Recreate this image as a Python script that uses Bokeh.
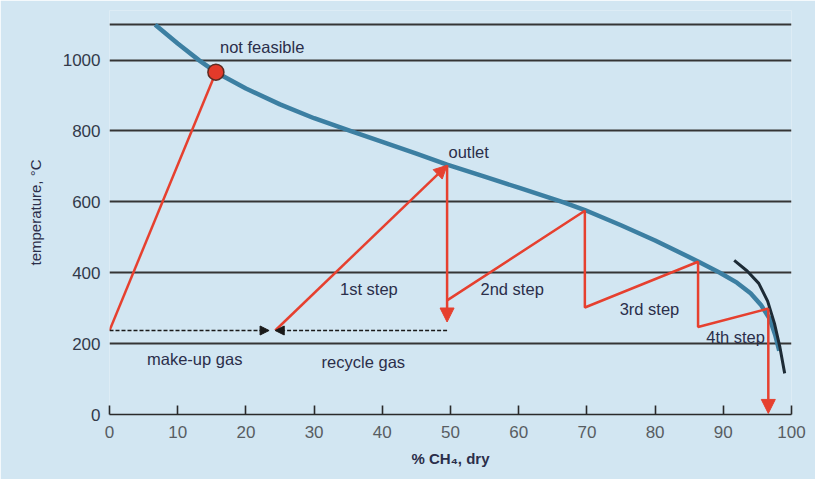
from bokeh.plotting import figure
from bokeh.models import Range1d, FixedTicker, Arrow, NormalHead, ColumnDataSource
from bokeh.core.properties import value
from bokeh.embed import file_html
from bokeh.resources import INLINE

# equilibrium curve (% CH4 dry vs temperature)
eq_x = [6.7, 10.0, 13.1, 15.6, 20.0, 25.0, 30.0, 35.3, 40.0, 45.0, 49.5, 55.0, 60.0,
        66.7, 69.7, 75.0, 80.0, 86.3, 89.5, 92.0, 94.0, 95.5, 96.8, 97.6, 98.2]
eq_y = [1100, 1047, 1000, 966, 920, 875, 836, 800, 769, 736, 705, 671, 640,
        598, 577, 534, 491, 432, 400, 372, 342, 310, 270, 225, 180]

# second (dark) curve near high conversion
dk_x = [91.6, 93.5, 95.2, 96.5, 97.5, 98.3, 99.0]
dk_y = [435, 405, 370, 320, 257, 190, 116]

# feed / adiabatic steps
feed_x = [0.0, 15.6]
feed_y = [237, 966]
step1_start = (24.3, 237)
outlet = (49.5, 703)
drop1_end = (49.5, 261)
steps_x = [49.5, 69.7, 69.7, 86.3, 86.3, 96.6]
steps_y = [322, 575, 302, 431, 247, 299]
final_drop_end = (96.6, 3)

# gas streams (dashed)
makeup = ((0.0, 237), (23.4, 237))
recycle = ((49.5, 237), (24.3, 237))

# not feasible point
nf_x = [15.6]
nf_y = [966]

labels = ["not feasible", "outlet", "1st step", "2nd step", "3rd step", "4th step",
          "make-up gas", "recycle gas"]
label_x = [16.2, 49.7, 33.8, 54.4, 74.8, 87.5, 5.5, 31.1]
label_y = [1037, 740, 353, 353, 297, 218, 158, 147]

x_ticks = [0, 10, 20, 30, 40, 50, 60, 70, 80, 90, 100]
y_ticks = [0, 200, 400, 600, 800, 1000]
grid_levels = [200, 400, 600, 800, 1000, 1100]

BG = "#d2e6f2"
RED = "#e6402f"
BLUE = "#3c7fa2"
TXT = "#2b2e4a"
FONT = "Liberation Sans"

p = figure(width=815, height=479, output_backend="svg", toolbar_location=None,
           x_range=Range1d(0, 100), y_range=Range1d(0, 1140),
           min_border_left=109, min_border_right=24, min_border_top=10, min_border_bottom=65)
p.background_fill_color = BG
p.border_fill_color = BG
p.outline_line_color = None

p.xgrid.visible = False
p.ygrid.ticker = FixedTicker(ticks=grid_levels)
p.ygrid.grid_line_color = "#353535"
p.ygrid.grid_line_width = 1.8

xa = p.xaxis[0]
xa.ticker = FixedTicker(ticks=x_ticks)
xa.major_tick_in = 9
xa.major_tick_out = 0
xa.minor_tick_line_color = None
xa.axis_line_color = "#2a2a2a"
xa.axis_line_width = 1.6
xa.major_tick_line_color = "#2a2a2a"
xa.major_tick_line_width = 1.6
xa.major_label_text_font = FONT
xa.major_label_text_font_size = "17px"
xa.major_label_text_color = "#585d62"
xa.major_label_standoff = 11
xa.axis_label = "% CH₄, dry"
xa.axis_label_text_font = FONT
xa.axis_label_text_font_size = "15px"
xa.axis_label_text_font_style = "bold"
xa.axis_label_text_color = TXT
xa.axis_label_standoff = 9

ya = p.yaxis[0]
ya.ticker = FixedTicker(ticks=y_ticks)
ya.major_tick_in = 0
ya.major_tick_out = 0
ya.minor_tick_line_color = None
ya.axis_line_color = None
ya.major_label_text_font = FONT
ya.major_label_text_font_size = "17px"
ya.major_label_text_color = "#333a4a"
ya.major_label_standoff = 9
ya.axis_label = "temperature, °C"
ya.axis_label_text_font = FONT
ya.axis_label_text_font_size = "15px"
ya.axis_label_text_font_style = "normal"
ya.axis_label_text_color = TXT
ya.axis_label_standoff = 16

# equilibrium curve
p.line(eq_x, eq_y, line_color=BLUE, line_width=4.5, line_join="round")
p.line(dk_x, dk_y, line_color="#1d2b36", line_width=3, line_join="round")

# red lines
p.line(feed_x, feed_y, line_color=RED, line_width=2.5)
p.line(steps_x, steps_y, line_color=RED, line_width=2.5)

def add_arrow(start, end, color, width, dash="solid", size=14):
    p.add_layout(Arrow(end=NormalHead(size=size, fill_color=color, line_color=color, line_width=1),
                       x_start=start[0], y_start=start[1], x_end=end[0], y_end=end[1],
                       line_color=color, line_width=width, line_dash=dash))

add_arrow(step1_start, outlet, RED, 2.5, size=13)
add_arrow(outlet, drop1_end, RED, 2.5, size=14)
add_arrow((steps_x[-1], steps_y[-1]), final_drop_end, RED, 2.5, size=14)
add_arrow(makeup[0], makeup[1], "#1a1a1a", 1.6, dash="4 2", size=9)
add_arrow(recycle[0], recycle[1], "#1a1a1a", 1.6, dash="4 2", size=9)

p.scatter(nf_x, nf_y, size=16, fill_color="#e33a2a", line_color="#5b2b22", line_width=1.5)

src = ColumnDataSource(dict(x=label_x, y=label_y, t=labels))
p.text(x="x", y="y", text="t", source=src, text_font=value(FONT), text_font_size="16.5px",
       text_color=TXT, text_baseline="middle", text_align="left")

open("out.html", "w").write(file_html(p, INLINE))
